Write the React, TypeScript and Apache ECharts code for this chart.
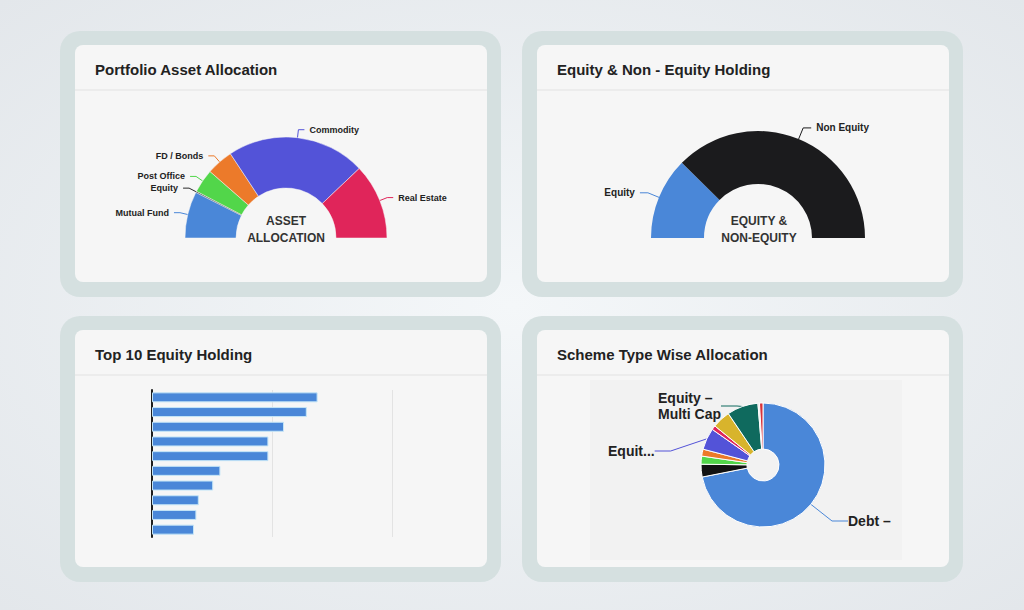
import React, { useEffect, useRef } from "react";
import * as echarts from "echarts";

const FONT = "'Liberation Sans', Arial, sans-serif";

// Portfolio Asset Allocation
const assetNames = ["Mutual Fund", "Equity", "Post Office", "FD / Bonds", "Commodity", "Real Estate"];
const assetValues = [15, 0.4, 7.6, 8.6, 44.6, 24.3];
const assetColors = ["#4a87d8", "#2a2a2a", "#52d64a", "#ec7a2a", "#5353d8", "#e0255a"];

// Equity & Non - Equity Holding
const eqNames = ["Equity", "Non Equity"];
const eqValues = [24.8, 75.2];
const eqColors = ["#4a87d8", "#1b1b1d"];

// Top 10 Equity Holding
const holdingNames = ["Holding 1", "Holding 2", "Holding 3", "Holding 4", "Holding 5", "Holding 6", "Holding 7", "Holding 8", "Holding 9", "Holding 10"];
const holdingValues = [6.9, 6.45, 5.5, 4.85, 4.85, 2.85, 2.55, 1.95, 1.85, 1.75];

// Scheme Type Wise Allocation
const schemeNames = ["Debt – Liquid", "Hybrid", "Equity – ELSS", "Equity – Mid Cap", "Equity – Large Cap", "Equity – Small Cap", "Equity – Flexi Cap", "Equity – Multi Cap", "Other", "Index Fund"];
const schemeValues = [71.6, 3.3, 2.1, 1.8, 5.6, 1.1, 4.7, 8.1, 0.4, 0.9];
const schemeLabels = ["Debt –", "", "", "", "Equit...", "", "", "Equity –\nMulti Cap", "", ""];
const schemeColors = ["#4a87d8", "#121212", "#52d64a", "#ec7a2a", "#5353d8", "#e0255a", "#d8b42c", "#0f6a5e", "#d8d8d8", "#d8333a"];

const cards = [
  { x: 60, y: 31, title: "Portfolio Asset Allocation" },
  { x: 522, y: 31, title: "Equity & Non - Equity Holding" },
  { x: 60, y: 316, title: "Top 10 Equity Holding" },
  { x: 522, y: 316, title: "Scheme Type Wise Allocation" },
];

// label anchor spots (left edge, vertical middle) for the scheme pie labels
const schemeLabelSpots: Record<number, [number, number]> = {
  0: [848, 521],
  4: [608, 451],
  7: [658, 406],
};

export default function App() {
  const ref = useRef<HTMLDivElement>(null);
  useEffect(() => {
    if (!ref.current) return;
    const chart = echarts.init(ref.current, null, { renderer: "svg" });

    const graphics: any[] = [
      {
        type: "rect",
        shape: { x: 0, y: 0, width: 1024, height: 610 },
        style: {
          fill: {
            type: "radial", x: 0.5, y: 0.5, r: 0.75,
            colorStops: [
              { offset: 0, color: "#f4f7f9" },
              { offset: 1, color: "#e2e6ea" },
            ],
          },
        },
        silent: true,
      },
    ];
    cards.forEach((c) => {
      graphics.push({
        type: "rect",
        shape: { x: c.x, y: c.y, width: 441, height: 266, r: 20 },
        style: { fill: "#d5e0e0" },
        silent: true,
      });
      graphics.push({
        type: "rect",
        shape: { x: c.x + 15, y: c.y + 14, width: 412, height: 237, r: 8 },
        style: { fill: "#f6f6f6" },
        silent: true,
      });
      graphics.push({
        type: "line",
        shape: { x1: c.x + 15, y1: c.y + 59, x2: c.x + 427, y2: c.y + 59 },
        style: { stroke: "#e2e2e2", lineWidth: 1 },
        silent: true,
      });
    });
    graphics.push({
      type: "rect",
      shape: { x: 590, y: 380, width: 312, height: 180 },
      style: { fill: "#f2f2f2" },
      silent: true,
    });
    graphics.push({
      type: "text",
      x: 286,
      y: 229,
      z: 100,
      style: {
        text: "ASSET\nALLOCATION",
        align: "center",
        verticalAlign: "middle",
        fontSize: 12,
        fontWeight: "bold",
        fontFamily: FONT,
        lineHeight: 17,
        fill: "#333",
      },
    });
    graphics.push({
      type: "text",
      x: 759,
      y: 229,
      z: 100,
      style: {
        text: "EQUITY &\nNON-EQUITY",
        align: "center",
        verticalAlign: "middle",
        fontSize: 12,
        fontWeight: "bold",
        fontFamily: FONT,
        lineHeight: 17,
        fill: "#333",
      },
    });

    const option: any = {
      animation: false,
      title: cards.map((c) => ({
        text: c.title,
        left: c.x + 35,
        top: c.y + 31,
        padding: 0,
        textStyle: { fontSize: 15, fontWeight: "bold", color: "#222", fontFamily: FONT },
      })),
      graphic: graphics,
      grid: { left: 152, top: 390, right: 1024 - 392, bottom: 610 - 537 },
      xAxis: {
        type: "value",
        min: 0,
        max: 10,
        interval: 5,
        axisLabel: { show: false },
        axisLine: { show: false },
        axisTick: { show: false },
        splitLine: { show: true, lineStyle: { color: "#e3e3e3" } },
      },
      yAxis: {
        type: "category",
        inverse: true,
        data: holdingNames,
        axisLabel: { show: false },
        axisTick: { show: false },
        axisLine: { show: true, lineStyle: { color: "#1e1e1e", width: 2 } },
      },
      series: [
        {
          type: "pie",
          center: [286, 238],
          radius: [50, 101],
          startAngle: 180,
          endAngle: 0,
          itemStyle: { borderColor: "#f6f6f6", borderWidth: 0.5 },
          label: { fontSize: 9, fontWeight: "bold", color: "#222", fontFamily: FONT },
          labelLine: { length: 8, length2: 6, lineStyle: { width: 1 } },
          data: assetNames.map((n, i) => ({ name: n, value: assetValues[i], itemStyle: { color: assetColors[i] } })),
        },
        {
          type: "pie",
          center: [758, 238],
          radius: [54, 107],
          startAngle: 180,
          endAngle: 0,
          label: { fontSize: 10, fontWeight: "bold", color: "#222", fontFamily: FONT },
          labelLine: { length: 12, length2: 8, lineStyle: { width: 1 } },
          data: eqNames.map((n, i) => ({ name: n, value: eqValues[i], itemStyle: { color: eqColors[i] } })),
        },
        {
          type: "bar",
          data: holdingValues,
          barWidth: 10,
          itemStyle: { color: "#4a87d8", borderColor: "#c4e5f7", borderWidth: 1 },
        },
        {
          type: "pie",
          center: [763, 465],
          radius: [16, 62],
          itemStyle: { borderColor: "#ffffff", borderWidth: 1 },
          label: { fontSize: 14, fontWeight: "bold", color: "#222", fontFamily: FONT, lineHeight: 16 },
          labelLine: { length: 12, length2: 16, lineStyle: { width: 1 } },
          labelLayout: (p: any) => {
            const spot = schemeLabelSpots[p.dataIndex];
            if (!spot) return {};
            return { x: spot[0], y: spot[1], align: "left", verticalAlign: "middle" };
          },
          data: schemeNames.map((n, i) => ({
            name: n,
            value: schemeValues[i],
            itemStyle: { color: schemeColors[i] },
            label: { show: schemeLabels[i] !== "", formatter: schemeLabels[i] },
            labelLine: { show: schemeLabels[i] !== "" },
          })),
        },
      ],
    };
    chart.setOption(option);
    return () => chart.dispose();
  }, []);
  return (
    <div
      ref={ref}
      style={{ position: "absolute", left: 0, top: 0, width: 1024, height: 610 }}
    />
  );
}
